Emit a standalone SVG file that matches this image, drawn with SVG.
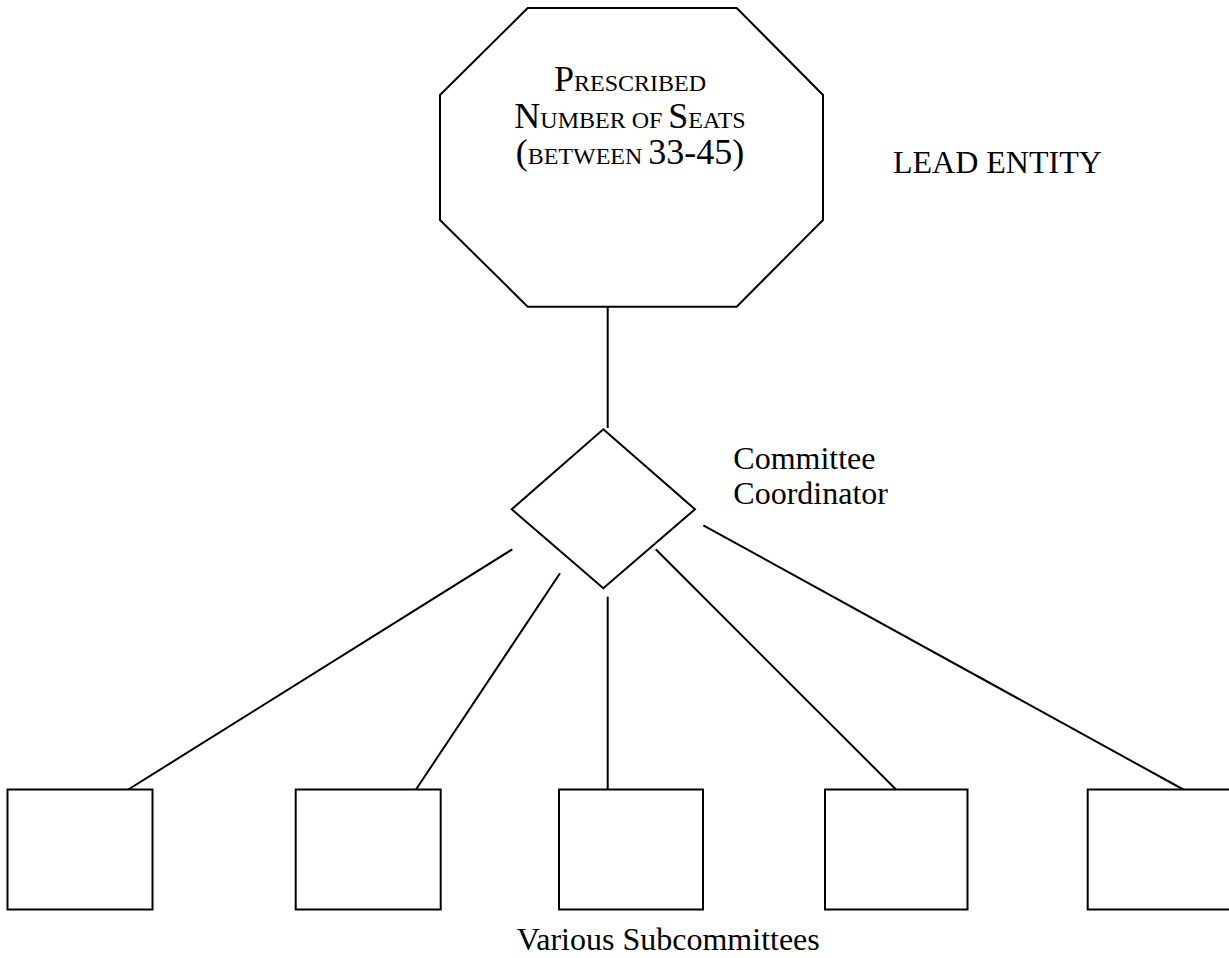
<svg xmlns="http://www.w3.org/2000/svg" width="1229" height="958" viewBox="0 0 1229 958">
<style>
.shape{fill:#fff;stroke:#000;stroke-width:2}
.conn line{stroke:#000;stroke-width:2}
text{font-family:"Liberation Serif","Times New Roman",serif;fill:#000}
.lbl{font-size:32px}
.big{font-size:36px}
.sc{font-size:24px}
</style>
<rect width="1229" height="958" fill="#fff"/>
<g id="connectors" class="conn">
<line x1="607.7" y1="307" x2="607.7" y2="428"/>
<line x1="512.3" y1="549.3" x2="128.3" y2="789.5"/>
<line x1="560" y1="573.3" x2="416" y2="789.5"/>
<line x1="607.7" y1="596.7" x2="607.7" y2="789.5"/>
<line x1="655.7" y1="549.3" x2="896" y2="789.5"/>
<line x1="703.3" y1="525.3" x2="1183.3" y2="789.5"/>
</g>
<g id="lead-entity">
<polygon class="shape" points="527.7,8 736.7,8 823,95 823,220 736.7,306.7 527.7,306.7 440,220 440,95"/>
<text x="630" y="91" text-anchor="middle"><tspan class="big">P</tspan><tspan class="sc">RESCRIBED</tspan></text>
<text x="630" y="127.5" text-anchor="middle"><tspan class="big">N</tspan><tspan class="sc">UMBER OF </tspan><tspan class="big">S</tspan><tspan class="sc">EATS</tspan></text>
<text x="630" y="164" text-anchor="middle"><tspan class="big">(</tspan><tspan class="sc">BETWEEN </tspan><tspan class="big">33-45)</tspan></text>
</g>
<g id="lead-entity-label">
<text class="lbl" x="893" y="172.7">LEAD ENTITY</text>
</g>
<g id="coordinator">
<polygon class="shape" points="603.3,429.3 695,509.3 603.3,588.3 511.7,509.3"/>
</g>
<g id="coordinator-label">
<text class="lbl" x="733.3" y="469.3">Committee</text>
<text class="lbl" x="733.3" y="504">Coordinator</text>
</g>
<g id="sub1"><rect class="shape" x="7.5" y="789.5" width="145" height="120"/></g>
<g id="sub2"><rect class="shape" x="295.7" y="789.5" width="145" height="120"/></g>
<g id="sub3"><rect class="shape" x="559" y="789.5" width="144" height="120"/></g>
<g id="sub4"><rect class="shape" x="825" y="789.5" width="142.5" height="120"/></g>
<g id="sub5"><rect class="shape" x="1087.7" y="789.5" width="144" height="120"/></g>
<g id="subcommittees-label">
<text class="lbl" x="516.7" y="950">Various Subcommittees</text>
</g>
</svg>
